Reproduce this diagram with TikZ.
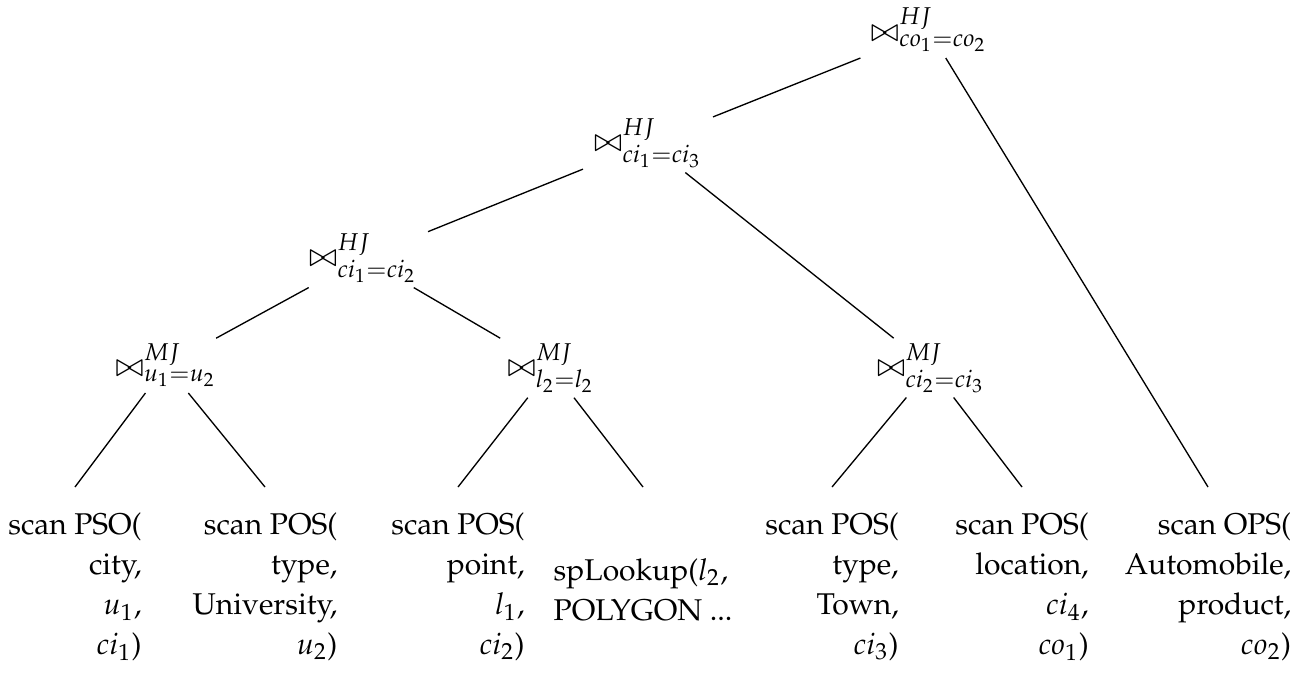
\documentclass[tikz,border=0pt]{standalone}
\usepackage[T1]{fontenc}
\usepackage{mathpazo}
\usepackage{amsmath}
\newcommand{\opdepth}{\rule[-3.6pt]{0pt}{1pt}}
\begin{document}
\begin{tikzpicture}[x=0.3pt,y=-0.3pt,
  font=\fontsize{9}{12}\selectfont,
  op/.style={anchor=base,inner xsep=3pt,inner ysep=1.3pt,font=\fontsize{9.6}{12}\selectfont},
  leafr/.style={anchor=north,align=right,inner xsep=3pt,inner ysep=7.4pt},
  leafl/.style={anchor=north,align=left,inner xsep=3pt,inner ysep=7.4pt},
  edge/.style={draw,line width=0.4pt}]
\useasboundingbox (0,0) rectangle (1311,675);
\node[op] (root) at (929,41) {$\bowtie^{HJ}_{co_1=co_2}$\opdepth};
\node[op] (a) at (648,151) {$\bowtie^{HJ}_{ci_1=ci_3}$\opdepth};
\node[op] (b) at (363,266) {$\bowtie^{HJ}_{ci_1=ci_2}$\opdepth};
\node[op] (c) at (166,376) {$\bowtie^{MJ}_{u_1=u_2}$\opdepth};
\node[op] (d) at (551,376) {$\bowtie^{MJ}_{l_2=l_2}$\opdepth};
\node[op] (e) at (931,376) {$\bowtie^{MJ}_{ci_2=ci_3}$\opdepth};
\node[leafr] (l1) at (75,487) {scan PSO(\\city,\\$u_1$,\\$ci_1$)};
\node[leafr] (l2) at (265,487) {scan POS(\\type,\\University,\\$u_2$)};
\node[leafr] (l3) at (458,487) {scan POS(\\point,\\$l_1$,\\$ci_2$)};
\node[leafl] (l4) at (643,487) {\strut\\spLookup($l_2$,\\POLYGON ...\\\strut};
\node[leafr] (l5) at (832,487) {scan POS(\\type,\\Town,\\$ci_3$)};
\node[leafr] (l6) at (1022,487) {scan POS(\\location,\\$ci_4$,\\$co_1$)};
\node[leafr] (l7) at (1208,487) {scan OPS(\\Automobile,\\product,\\$co_2$)};
\draw[edge] (root) -- (a);
\draw[edge] (root) -- (l7.north);
\draw[edge] (a) -- (b);
\draw[edge] (a) -- (e);
\draw[edge] (b) -- (c);
\draw[edge] (b) -- (d);
\draw[edge] (c) -- (l1.north);
\draw[edge] (c) -- (l2.north);
\draw[edge] (d) -- (l3.north);
\draw[edge] (d) -- (l4.north);
\draw[edge] (e) -- (l5.north);
\draw[edge] (e) -- (l6.north);
\end{tikzpicture}
\end{document}
